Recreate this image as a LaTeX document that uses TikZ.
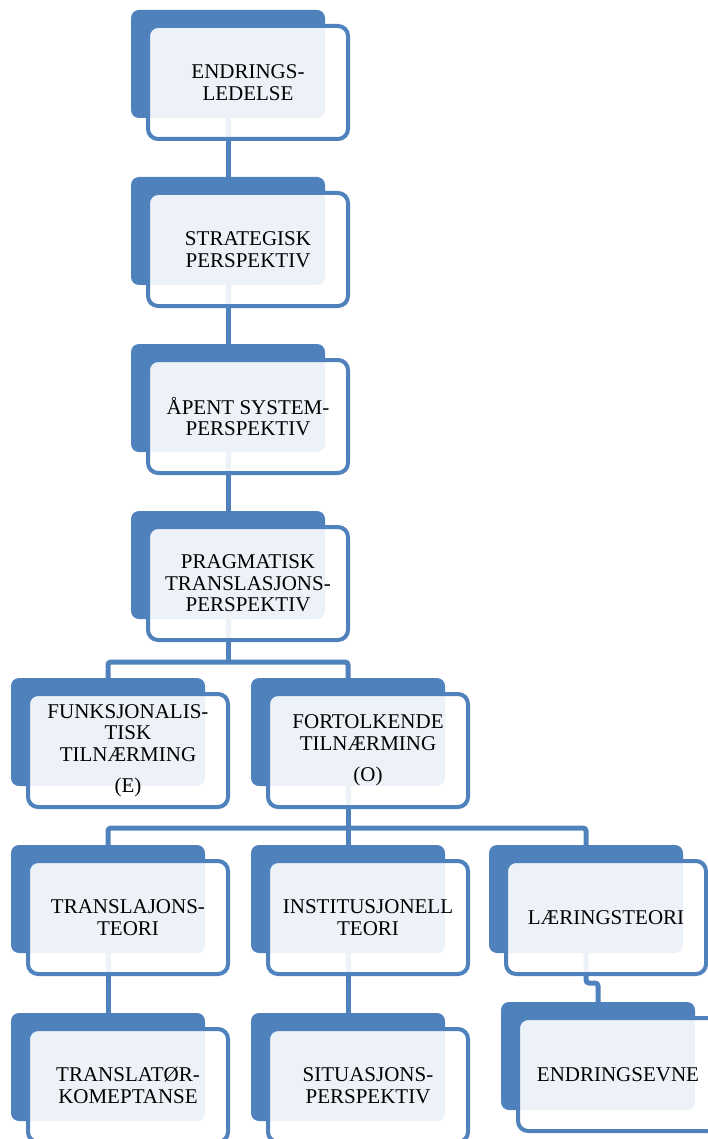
\documentclass[tikz,border=0pt]{standalone}
\usepackage{fontspec}
\setmainfont{Liberation Serif}
\usetikzlibrary{calc}
\definecolor{smblue}{HTML}{4F81BD}
\pgfdeclarelayer{links}
\pgfsetlayers{links,main}
\tikzset{
  backbox/.style={fill=smblue, rounded corners=8pt, minimum width=194pt,
    minimum height=108pt, inner sep=0pt, outer sep=0pt, anchor=north west},
  frontbox/.style={draw=smblue, line width=4pt, fill=white, fill opacity=0.9,
    text opacity=1, rounded corners=10pt, minimum width=200pt,
    minimum height=113pt, inner sep=2pt, outer sep=0pt, align=center,
    anchor=north west, font=\fontsize{21}{21.7}\selectfont},
  link/.style={draw=smblue, line width=5pt, rounded corners=3pt}
}
% name, x, y (top-left of the solid block), label
\newcommand\hierbox[4]{%
  \node[backbox] (#1-b) at (#2,#3) {};
  \node[frontbox] (#1) at ($(#1-b.north west)+(17,-16)$) {#4};
}
\begin{document}
\begin{tikzpicture}[x=1pt,y=1pt]
\useasboundingbox (0,0) rectangle (708,-1139);
\clip (0,0) rectangle (708,-1139);

% main column
\hierbox{e1}{131}{-10}{ENDRINGS-\\LEDELSE}
\hierbox{e2}{131}{-177}{STRATEGISK\\PERSPEKTIV}
\hierbox{e3}{131}{-344}{ÅPENT SYSTEM-\\PERSPEKTIV}
\hierbox{e4}{131}{-511}{PRAGMATISK\\TRANSLASJONS-\\PERSPEKTIV}

% approaches
\hierbox{f1}{11}{-678}{FUNKSJONALIS-\\TISK\\TILNÆRMING\\[9pt](E)}
\hierbox{f2}{251}{-678}{FORTOLKENDE\\TILNÆRMING\\[10pt](O)}

% theories
\hierbox{t1}{11}{-845}{TRANSLAJONS-\\TEORI}
\hierbox{t2}{251}{-845}{INSTITUSJONELL\\TEORI}
\hierbox{t3}{489}{-845}{LÆRINGSTEORI}

% outcomes
\hierbox{u1}{11}{-1013}{TRANSLATØR-\\KOMEPTANSE}
\hierbox{u2}{251}{-1013}{SITUASJONS-\\PERSPEKTIV}
\hierbox{u3}{501}{-1002}{ENDRINGSEVNE}

\coordinate (busA) at (228,-662);
\coordinate (busB) at (348,-828);
\coordinate (stepL) at (592,-983);

\begin{pgfonlayer}{links}
  \draw[link] (e1-b.south) -- (e2-b.north);
  \draw[link] (e2-b.south) -- (e3-b.north);
  \draw[link] (e3-b.south) -- (e4-b.north);
  \draw[link] (e4-b.south) -- (busA);
  \draw[link] (f1-b.north) |- (busA) -| (f2-b.north);
  \draw[link] (f2-b.south) -- (busB);
  \draw[link] (t1-b.north) |- (busB) -| (t3-b.north);
  \draw[link] (busB) -- (t2-b.north);
  \draw[link] (t1-b.south) -- (u1-b.north);
  \draw[link] (t2-b.south) -- (u2-b.north);
  \draw[link] (t3-b.south) |- (stepL) -| (u3-b.north);
\end{pgfonlayer}
\end{tikzpicture}
\end{document}
